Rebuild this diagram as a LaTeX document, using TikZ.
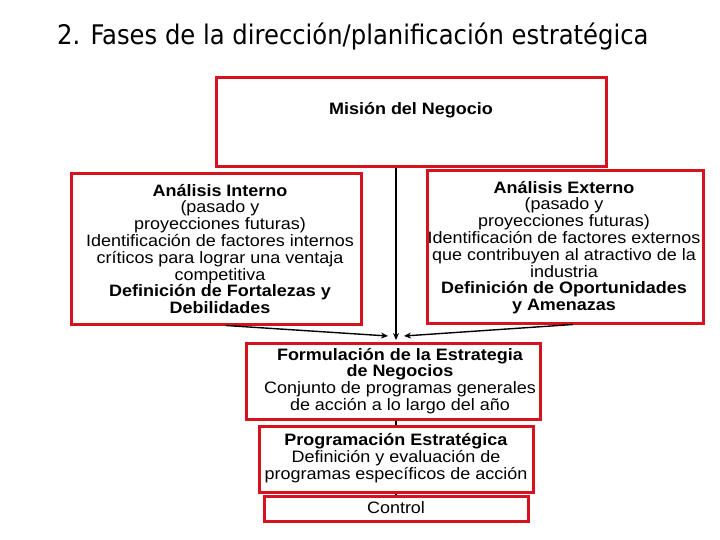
\documentclass[tikz,border=0pt]{standalone}
\usepackage{fontspec}
\setmainfont{Liberation Sans}[FakeStretch=1.09]
\newfontfamily\titlefont{DejaVu Sans Condensed}
\usetikzlibrary{arrows.meta}
\definecolor{boxred}{RGB}{214,18,32}
\tikzset{
  box/.style={draw=boxred, line width=3pt, fill=white, inner sep=0pt},
  txt/.style={align=center, inner sep=0pt, font=\fontsize{16.5}{16.8}\selectfont},
  conn/.style={draw=black, line width=1.4pt},
  arr/.style={conn, -{Stealth[length=7pt,width=6pt]}}
}
\begin{document}
\begin{tikzpicture}[x=1pt,y=-1pt]
\useasboundingbox (0,0) rectangle (720,540);
\node[anchor=base west, inner sep=0pt] (title) at (57,45) {\titlefont\fontsize{27}{27}\selectfont 2. Fases de la dirección/planificación estratégica};

\node[box, minimum width=390pt, minimum height=89pt] (mision) at (411,122.5) {};
\node[txt] (misiont) at (411,110) {\textbf{Misión del Negocio}};

\node[box, minimum width=290pt, minimum height=150pt] (interno) at (216,249) {};
\node[txt] (internot) at (220,249) {\textbf{Análisis Interno}\\(pasado y\\proyecciones futuras)\\Identificación de factores internos\\críticos para lograr una ventaja\\competitiva\\\textbf{Definición de Fortalezas y}\\\textbf{Debilidades}};

\node[box, minimum width=276pt, minimum height=152pt] (externo) at (565,247) {};
\node[txt] (externot) at (564,247.5) {\textbf{Análisis Externo}\\(pasado y\\proyecciones futuras)\\Identificación de factores externos\\que contribuyen al atractivo de la\\industria\\\textbf{Definición de Oportunidades}\\\textbf{y Amenazas}};

\node[box, minimum width=294pt, minimum height=76pt] (form) at (393,381) {};
\node[txt] (formt) at (400,381) {\textbf{Formulación de la Estrategia}\\\textbf{de Negocios}\\Conjunto de programas generales\\de acción a lo largo del año};

\node[box, minimum width=274pt, minimum height=66pt] (prog) at (396,459) {};
\node[txt] (progt) at (396,458) {\textbf{Programación Estratégica}\\Definición y evaluación de\\programas específicos de acción};

\node[box, minimum width=264pt, minimum height=25pt] (control) at (396,508.5) {};
\node[txt] (controlt) at (396,508) {Control};

\coordinate (joint) at (396,340);
\coordinate (jl) at (388,336);
\coordinate (jr) at (404,336);
\draw[arr] (mision.south -| joint) -- (joint);
\draw[arr] (interno.south) ++(10,0) coordinate (ls) (ls) -- (jl);
\draw[arr] (externo.south) ++(8,0) coordinate (rs) (rs) -- (jr);
\draw[conn] (form.south -| joint) -- (prog.north -| joint);
\draw[conn] (prog.south -| joint) -- (control.north -| joint);
\end{tikzpicture}
\end{document}
